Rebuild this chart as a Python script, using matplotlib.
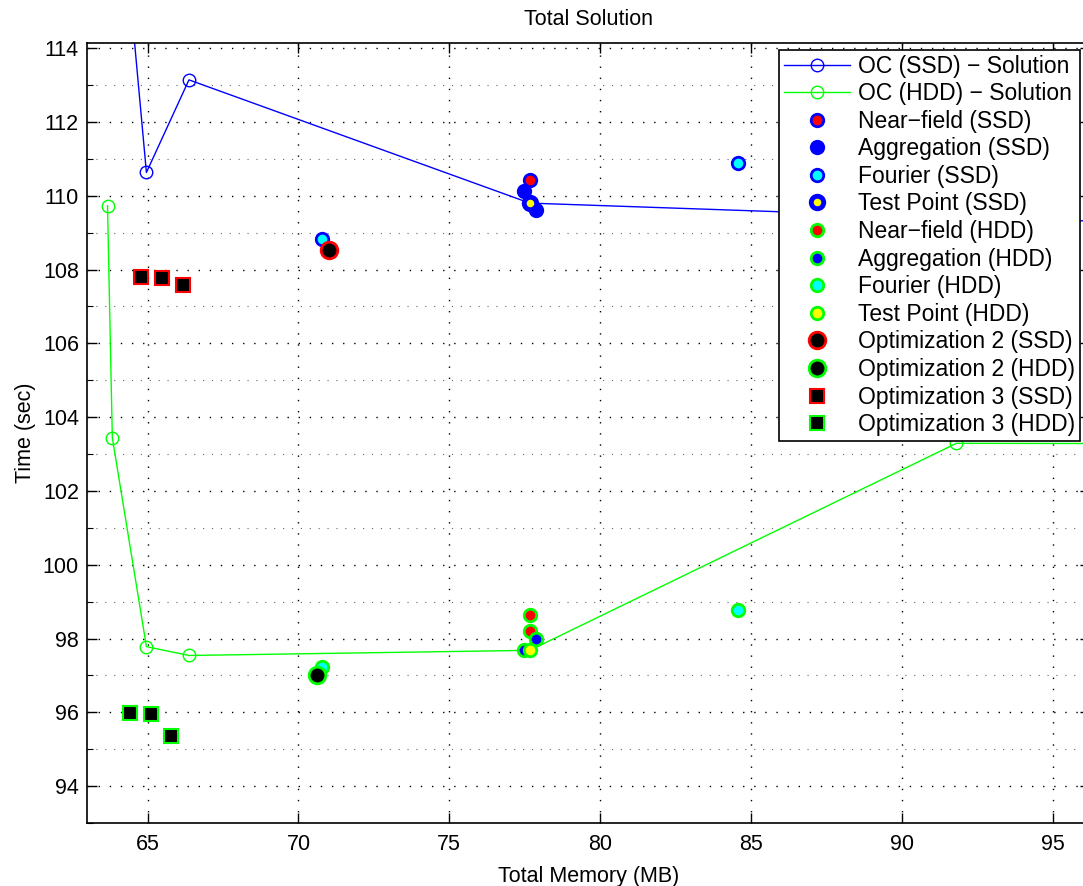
import matplotlib
matplotlib.use("Agg")
import matplotlib.pyplot as plt
from matplotlib.ticker import MultipleLocator

plt.rcParams['font.family'] = ['Liberation Sans', 'DejaVu Sans']
plt.rcParams['font.size'] = 15.5

# OC solution curves (memory MB, time sec)
oc_ssd_x = [63.67, 63.83, 64.96, 66.37, 77.67, 91.81, 110.0]
oc_ssd_y = [124.0, 120.75, 110.63, 113.14, 109.80, 109.40, 109.05]
oc_hdd_x = [63.67, 63.83, 64.96, 66.37, 77.67, 91.81, 110.0]
oc_hdd_y = [109.73, 103.44, 97.78, 97.54, 97.68, 103.29, 103.27]

# individual runs
nf_ssd_x, nf_ssd_y = [77.68], [110.43]
ag_ssd_x, ag_ssd_y = [77.49, 77.67, 77.88], [110.13, 109.80, 109.62]
fo_ssd_x, fo_ssd_y = [70.79, 84.58], [108.83, 110.89]
tp_ssd_x, tp_ssd_y = [77.67], [109.80]
nf_hdd_x, nf_hdd_y = [77.68, 77.68], [98.65, 98.20]
ag_hdd_x, ag_hdd_y = [77.88, 77.46], [97.99, 97.70]
fo_hdd_x, fo_hdd_y = [70.79, 84.58], [97.23, 98.77]
tp_hdd_x, tp_hdd_y = [77.67], [97.68]
opt2_ssd_x, opt2_ssd_y = [71.01], [108.52]
opt2_hdd_x, opt2_hdd_y = [70.61], [97.00]
opt3_ssd_x, opt3_ssd_y = [64.78, 65.49, 66.17], [107.80, 107.77, 107.59]
opt3_hdd_x, opt3_hdd_y = [64.40, 65.11, 65.79], [95.99, 95.96, 95.35]

B = '#0000ff'
G = '#00ff00'

fig = plt.figure(figsize=(10.83, 8.86), dpi=100)
ax = fig.add_axes([0.0806, 0.0711, 0.9259, 0.8804])

ms = 9
ax.plot(oc_ssd_x, oc_ssd_y, '-o', color=B, mfc='none', mec=B, ms=ms, lw=1, label='OC (SSD) \u2212 Solution')
ax.plot(oc_hdd_x, oc_hdd_y, '-o', color=G, mfc='none', mec=G, ms=ms, lw=1, label='OC (HDD) \u2212 Solution')
ax.plot(nf_ssd_x, nf_ssd_y, 'o', mfc='red', mec=B, mew=2, ms=ms, label='Near\u2212field (SSD)')
ax.plot(ag_ssd_x, ag_ssd_y, 'o', mfc=B, mec=B, mew=2, ms=ms, label='Aggregation (SSD)')
ax.plot(fo_ssd_x, fo_ssd_y, 'o', mfc='cyan', mec=B, mew=2, ms=ms, label='Fourier (SSD)')
ax.plot(tp_ssd_x, tp_ssd_y, 'o', mfc='yellow', mec=B, mew=3.5, ms=ms, label='Test Point (SSD)')
ax.plot(nf_hdd_x, nf_hdd_y, 'o', mfc='red', mec=G, mew=2, ms=ms, label='Near\u2212field (HDD)')
ax.plot(ag_hdd_x, ag_hdd_y, 'o', mfc=B, mec=G, mew=2, ms=ms, label='Aggregation (HDD)')
ax.plot(fo_hdd_x, fo_hdd_y, 'o', mfc='cyan', mec=G, mew=2, ms=ms, label='Fourier (HDD)')
ax.plot(tp_hdd_x, tp_hdd_y, 'o', mfc='yellow', mec=G, mew=2, ms=ms, label='Test Point (HDD)')
ax.plot(opt2_ssd_x, opt2_ssd_y, 'o', mfc='black', mec='red', mew=2, ms=12, label='Optimization 2 (SSD)')
ax.plot(opt2_hdd_x, opt2_hdd_y, 'o', mfc='black', mec=G, mew=2, ms=12, label='Optimization 2 (HDD)')
ax.plot(opt3_ssd_x, opt3_ssd_y, 's', mfc='black', mec='red', mew=1.5, ms=10.5, label='Optimization 3 (SSD)')
ax.plot(opt3_hdd_x, opt3_hdd_y, 's', mfc='black', mec=G, mew=1.5, ms=10.5, label='Optimization 3 (HDD)')

ax.set_xlim(63.0, 96.24)
ax.set_ylim(93.0, 114.14)
ax.xaxis.set_major_locator(MultipleLocator(5))
ax.yaxis.set_major_locator(MultipleLocator(2))
ax.yaxis.set_minor_locator(MultipleLocator(1))
ax.tick_params(which='both', direction='in', top=True, right=True)
ax.tick_params(which='major', length=7, width=1)
ax.tick_params(which='minor', length=4, width=0.8)
ax.tick_params(axis='x', which='major', pad=8)
ax.tick_params(axis='y', which='major', pad=6)
ax.grid(True, which='major', color='black', linestyle=(0, (1, 7)), linewidth=1)
ax.yaxis.grid(True, which='minor', color='#666666', linestyle=(0, (1, 7)), linewidth=0.8)
ax.set_axisbelow(True)
for s in ax.spines.values():
    s.set_linewidth(1.2)

ax.set_title('Total Solution', fontsize=15.5, pad=13)
ax.set_xlabel('Total Memory (MB)', labelpad=8)
ax.set_ylabel('Time (sec)', labelpad=5)

leg = ax.legend(loc='upper right', bbox_to_anchor=(0.9972, 0.9436), bbox_transform=fig.transFigure,
                borderaxespad=0, fancybox=False, framealpha=1, edgecolor='black', fontsize=16.5,
                handlelength=2.9, labelspacing=0.2, borderpad=0.2, handletextpad=0.35)
leg.get_frame().set_linewidth(1.2)

fig.savefig('out.png', dpi=100)
